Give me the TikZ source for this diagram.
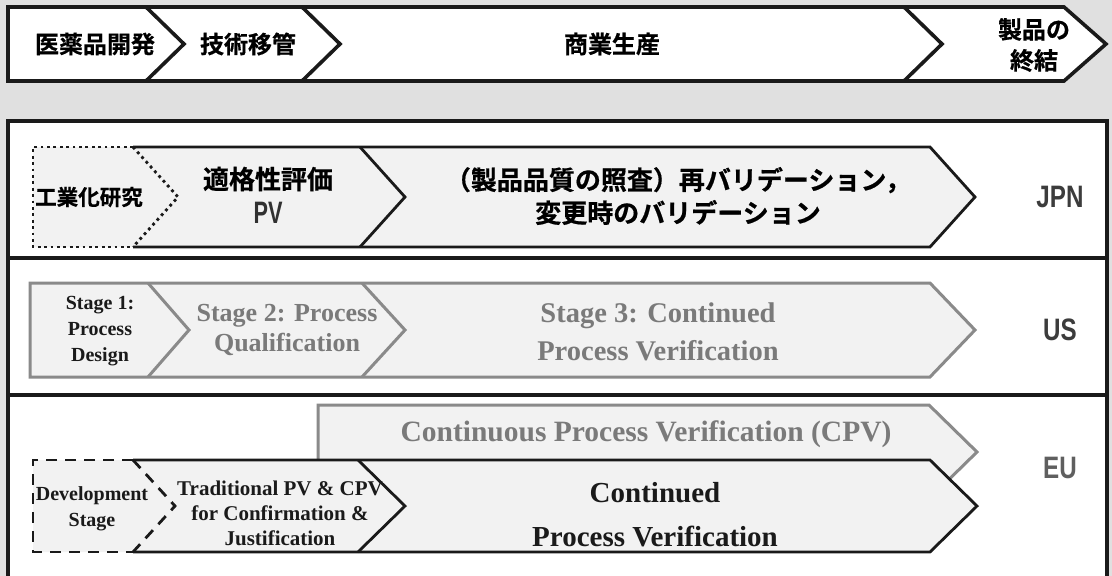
\documentclass[tikz,border=0pt]{standalone}
\usepackage{fontspec}
\setmainfont{Liberation Serif}
\newfontfamily\jp{Noto Sans CJK JP}[UprightFont=* Bold, FakeBold=0.6]
\newfontfamily\nar{Liberation Sans}[UprightFont=* Bold, FakeStretch=0.78]
\newfontfamily\narr{Liberation Sans}[UprightFont=* Bold, FakeStretch=0.7]
\definecolor{ink}{HTML}{1A1A1A}
\definecolor{midgray}{HTML}{7A7A7A}
\definecolor{linegray}{HTML}{8A8A8A}
\definecolor{bggray}{HTML}{E0E0E0}
\definecolor{fillgray}{HTML}{F2F2F2}
\tikzset{
  frame/.style={draw=ink, line width=3.6pt, line join=miter},
  inner/.style={draw=ink, line width=2.8pt, line join=miter},
  innergray/.style={draw=linegray, line width=3pt, line join=miter},
  dotline/.style={draw=ink, line width=2.8pt, dash pattern=on 2.8pt off 3.6pt},
  dashline/.style={draw=ink, line width=2.8pt, dash pattern=on 11pt off 8pt},
  lbl/.style={inner sep=0pt, align=center},
  jpA/.style={lbl, font=\jp\fontsize{24}{31}\selectfont},
  jpB/.style={lbl, font=\jp\fontsize{26}{33}\selectfont},
  jpC/.style={lbl, font=\jp\fontsize{21.5}{24}\selectfont},
  region/.style={lbl, font=\nar\fontsize{31}{31}\selectfont, text=ink!85},
  enS/.style={lbl, font=\bfseries\fontsize{20}{26}\selectfont, text=ink},
  enM/.style={lbl, font=\bfseries\fontsize{26}{30}\selectfont, text=midgray},
  enL/.style={lbl, font=\bfseries\fontsize{28.5}{38}\selectfont, text=midgray},
  enT/.style={lbl, font=\bfseries\fontsize{21}{25}\selectfont, text=ink},
  enC/.style={lbl, font=\bfseries\fontsize{29}{44}\selectfont, text=ink},
}
\begin{document}
\begin{tikzpicture}[x=1pt,y=-1pt]
\useasboundingbox (0,0) rectangle (1112,576);
\fill[bggray] (0,0) rectangle (1112,576);

% ---------- top banner ----------
\filldraw[frame, fill=white] (8,7) -- (1064,7) -- (1106,44) -- (1064,81) -- (8,81) -- cycle;
\draw[frame] (146,7) -- (184,44) -- (146,81);
\draw[frame] (302,7) -- (340,44) -- (302,81);
\draw[frame] (904,7) -- (942,44) -- (904,81);
\node[jpA] (b1) at (95,44) {医薬品開発};
\node[jpA] (b2) at (248,44) {技術移管};
\node[jpA] (b3) at (612,44) {商業生産};
\node[jpA] (b4) at (1034,45) {製品の\\終結};

% ---------- panels ----------
\filldraw[frame, fill=white] (8,121) rectangle (1107,582);
\draw[frame] (8,258) -- (1107,258);
\draw[frame] (8,395) -- (1107,395);

% ---------- JPN ----------
\fill[fillgray] (33,147) -- (930,147) -- (975,197) -- (930,247) -- (33,247) -- cycle;
\draw[inner] (133,147) -- (930,147) -- (975,197) -- (930,247) -- (133,247);
\draw[inner] (360,147) -- (405,197) -- (360,247);
\draw[dotline] (133,147) -- (33,147) -- (33,247) -- (133,247);
\draw[dotline] (133,147) -- (178,197) -- (133,247);
\node[jpC] (j1) at (89,197) {工業化研究};
\node[lbl, font=\jp\fontsize{26}{26}\selectfont] (j2) at (268,179) {適格性評価};
\node[lbl, font=\narr\fontsize{31}{31}\selectfont, text=ink!90] (j2b) at (268,213) {PV};
\node[jpB] (j3) at (678,196) {（製品品質の照査）再バリデーション，\\変更時のバリデーション};
\node[region] (jl) at (1060,197) {JPN};

% ---------- US ----------
\fill[fillgray] (30,283) -- (930,283) -- (975,330) -- (930,377) -- (30,377) -- cycle;
\draw[innergray] (30,283) -- (930,283) -- (975,330) -- (930,377) -- (30,377) -- cycle;
\draw[innergray] (148,283) -- (189,330) -- (148,377);
\draw[innergray] (362,283) -- (405,330) -- (362,377);
\node[enS] (u1) at (100,331) {Stage 1:\\Process\\Design};
\node[enM] (u2) at (287,330) {Stage 2: Process\\Qualification};
\node[enL] (u3) at (658,332) {Stage 3: Continued\\Process Verification};
\node[region] (ul) at (1060,330) {US};

% ---------- EU ----------
\fill[fillgray] (318,405) -- (929,405) -- (977,452) -- (929,499) -- (318,499) -- cycle;
\draw[innergray] (318,405) -- (929,405) -- (977,452) -- (929,499) -- (318,499) -- cycle;
\node[lbl, font=\bfseries\fontsize{29.5}{29.5}\selectfont, text=midgray] (e0) at (646,434) {Continuous Process Verification (CPV)};
\fill[fillgray] (33,460) -- (930,460) -- (977,506) -- (930,552) -- (33,552) -- cycle;
\draw[inner] (133,460) -- (930,460) -- (977,506) -- (930,552) -- (133,552);
\draw[inner] (358,460) -- (405,506) -- (358,552);
\draw[dashline] (133,460) -- (33,460) -- (33,552) -- (133,552);
\draw[dashline] (133,460) -- (175,506) -- (133,552);
\node[enS] (e1) at (92,509) {Development\\Stage};
\node[enT] (e2) at (280,513) {Traditional PV \& CPV\\for Confirmation \&\\Justification};
\node[enC] (e3) at (655,515) {Continued\\Process Verification};
\node[region, text=ink!70] (el) at (1060,468) {EU};
\end{tikzpicture}
\end{document}
